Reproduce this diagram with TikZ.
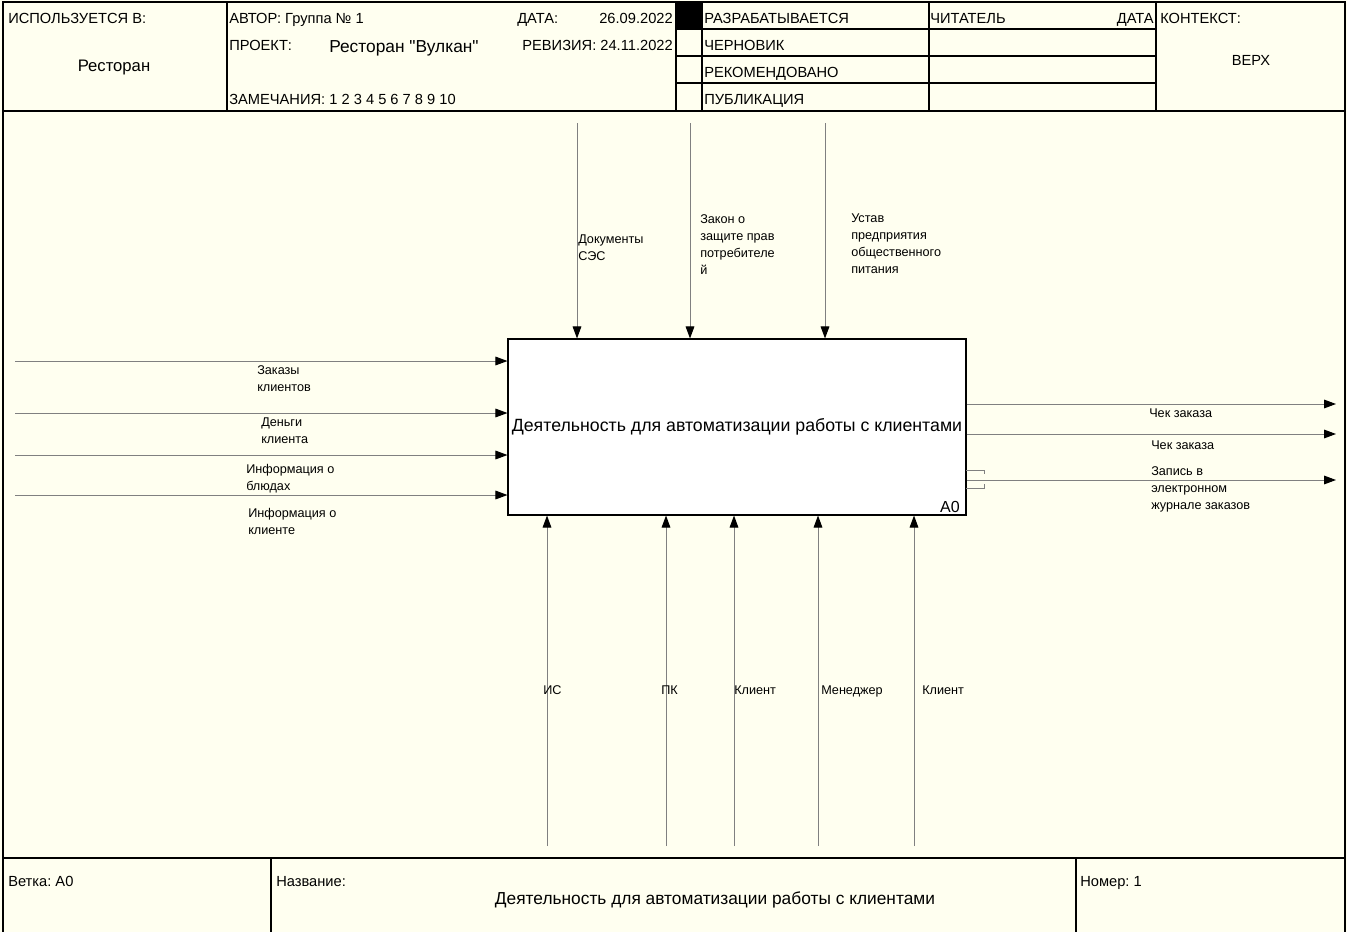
\documentclass[tikz,border=0pt]{standalone}
\usepackage{fontspec}
\setmainfont{Liberation Sans}
\newfontfamily\plainquotes[Ligatures=ResetAll]{Liberation Sans}
\usetikzlibrary{arrows.meta,positioning}
\definecolor{paper}{RGB}{255,255,240}
\definecolor{flowgray}{RGB}{128,128,128}
\frenchspacing

\begin{document}
\begin{tikzpicture}[x=0.75pt, y=-0.75pt,
    hdr/.style={anchor=base west, inner sep=0pt, font=\fontsize{11}{13}\selectfont},
    lbl/.style={anchor=north west, inner sep=0pt, align=left, font=\fontsize{9.5}{12.75}\selectfont},
    mlbl/.style={anchor=base west, inner sep=0pt, font=\fontsize{9.5}{12.75}\selectfont},
    actbox/.style={rectangle, draw, fill=white, line width=0.8pt, minimum width=343.5pt, minimum height=132pt, inner sep=0pt, font=\fontsize{13.3}{15}\selectfont},
    flow/.style={->, draw=flowgray, line width=0.75pt},
    frame/.style={draw=black, line width=0.8pt},
    >={Triangle[length=9pt, width=6.5pt, color=black]}
]
    % Sheet
    \fill[paper] (0,0) rectangle (1347,932);
    \useasboundingbox (0,0) rectangle (1347,932);
    \draw[frame] (3,932) -- (3,2) -- (1345,2) -- (1345,932);
    \draw[frame] (3,111) -- (1345,111);
    \draw[frame] (3,858) -- (1345,858);
    \foreach \x in {227,676,702,929,1156} \draw[frame] (\x,2) -- (\x,111);
    \foreach \y in {29,56,83} \draw[frame] (676,\y) -- (1156,\y);
    \fill (677,2) rectangle (702,29);
    \foreach \x in {271,1076} \draw[frame] (\x,858) -- (\x,932);

    % Header
    \node[hdr] (usedin) at (8,23.5) {ИСПОЛЬЗУЕТСЯ В:};
    \node[hdr, anchor=base, font=\fontsize{12.5}{14}\selectfont] (usedval) at (114,71.5) {Ресторан};
    \node[hdr] (author) at (229,23.5) {АВТОР: Группа № 1};
    \node[hdr] (datekey) at (517,23.5) {ДАТА:};
    \node[hdr, anchor=base east] (dateval) at (673,23.5) {26.09.2022};
    \node[hdr] (proj) at (229,50.5) {ПРОЕКТ:};
    \node[hdr, font=\plainquotes\fontsize{13}{15}\selectfont] (projval) at (329,52.5) {Ресторан "Вулкан"};
    \node[hdr, anchor=base east] (rev) at (673,50.5) {РЕВИЗИЯ: 24.11.2022};
    \node[hdr] (notes) at (229,104.5) {ЗАМЕЧАНИЯ: 1 2 3 4 5 6 7 8 9 10};
    \node[hdr] (st1) at (704,23.5) {РАЗРАБАТЫВАЕТСЯ};
    \node[hdr] (st2) at (704,50.5) {ЧЕРНОВИК};
    \node[hdr] (st3) at (704,77.5) {РЕКОМЕНДОВАНО};
    \node[hdr] (st4) at (704,104.5) {ПУБЛИКАЦИЯ};
    \node[hdr] (reader) at (930,23.5) {ЧИТАТЕЛЬ};
    \node[hdr, anchor=base east] (rdate) at (1154,23.5) {ДАТА};
    \node[hdr] (ctx) at (1160,23.5) {КОНТЕКСТ:};
    \node[hdr, anchor=base] (ctxval) at (1251,65.5) {ВЕРХ};

    % Activity
    \node[actbox] (act) at (737,427) {Деятельность для автоматизации работы с клиентами};
    \node[anchor=base east, inner sep=0pt, font=\fontsize{12}{14}\selectfont] (actnum) at (960,512) {A0};

    % Controls
    \foreach \n/\x in {c1/577, c2/690, c3/825} \coordinate (\n) at (\x,123);
    \foreach \n in {c1,c2,c3} \draw[flow] (\n) -- (\n |- act.north);
    \node[lbl] (lc1) at (578,234.5) {Документы\\СЭС};
    \node[lbl] (lc2) at (700,214.5) {Закон о\\защите прав\\потребителе\\й};
    \node[lbl] (lc3) at (851,213.5) {Устав\\предприятия\\общественного\\питания};

    % Inputs
    \foreach \n/\y in {i1/361, i2/413, i3/455, i4/495} \coordinate (\n) at (15,\y);
    \foreach \n in {i1,i2,i3,i4} \draw[flow] (\n) -- (\n -| act.west);
    \node[lbl] (li1) at (257,365.5) {Заказы\\клиентов};
    \node[lbl] (li2) at (261,417.5) {Деньги\\клиента};
    \node[lbl] (li3) at (246,464.5) {Информация о\\блюдах};
    \node[lbl] (li4) at (248,508.5) {Информация о\\клиенте};

    % Outputs
    \foreach \n/\y in {o1/404, o2/434, o3/480} \coordinate (\n) at (1336,\y);
    \foreach \n in {o1,o2,o3} \draw[flow] (\n -| act.east) -- (\n);
    \draw[flowgray, line width=0.75pt] (966,470) -- (984,470) -- (984,474);
    \draw[flowgray, line width=0.75pt] (966,488) -- (984,488) -- (984,484);
    \node[lbl] (lo1) at (1149,408.5) {Чек заказа};
    \node[lbl] (lo2) at (1151,440.5) {Чек заказа};
    \node[lbl] (lo3) at (1151,466.5) {Запись в\\электронном\\журнале заказов};

    % Mechanisms
    \foreach \n/\x in {m1/547, m2/666, m3/734, m4/818, m5/914} \coordinate (\n) at (\x,846);
    \foreach \n in {m1,m2,m3,m4,m5} \draw[flow] (\n) -- (\n |- act.south);
    \node[mlbl] (lm1) at (543,694.5) {ИС};
    \node[mlbl] (lm2) at (661,694.5) {ПК};
    \node[mlbl] (lm3) at (734,694.5) {Клиент};
    \node[mlbl] (lm4) at (821,694.5) {Менеджер};
    \node[mlbl] (lm5) at (922,694.5) {Клиент};

    % Footer
    \node[hdr] (branch) at (8,886.5) {Ветка: A0};
    \node[hdr] (name) at (276,886.5) {Название:};
    \node[hdr, anchor=base, font=\fontsize{13}{15}\selectfont] (title) at (715,904.5) {Деятельность для автоматизации работы с клиентами};
    \node[hdr] (num) at (1080,886.5) {Номер: 1};
\end{tikzpicture}
\end{document}
